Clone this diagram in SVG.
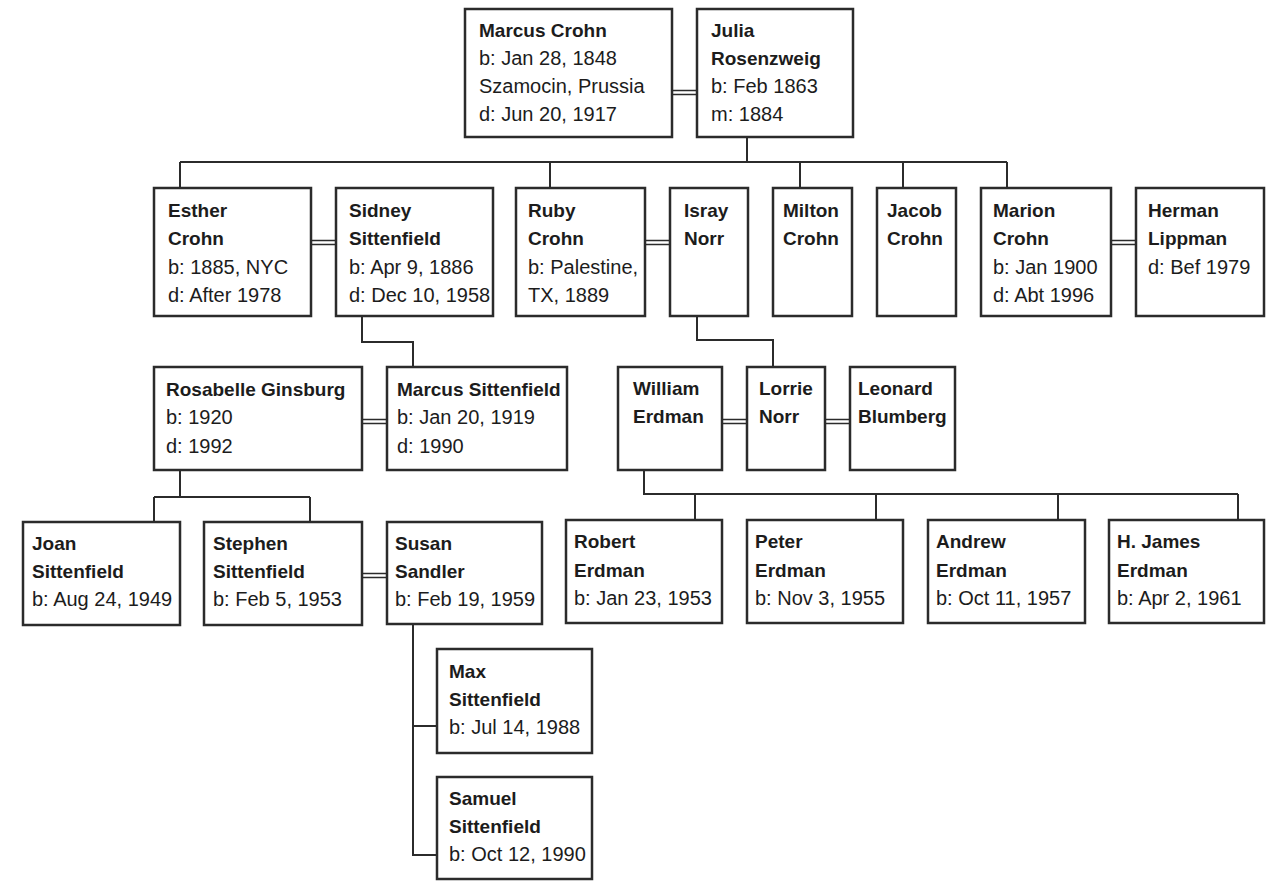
<svg xmlns="http://www.w3.org/2000/svg" width="1277" height="884" viewBox="0 0 1277 884">
<style>
.bg{fill:#ffffff}
.box{fill:#ffffff;stroke:#2b2b2b;stroke-width:2.5}
.ln{fill:none;stroke:#2b2b2b;stroke-width:2}
.mar{fill:none;stroke:#2b2b2b;stroke-width:1.5}
text{font-family:"Liberation Sans",Arial,sans-serif;fill:#1c1c1c}
.n{font-size:19px;font-weight:bold}
.d{font-size:20px}
</style>
<rect class="bg" x="0" y="0" width="1277" height="884"/>
<g id="connectors">
  <path class="mar" d="M672 90.5H697M672 94.5H697"/>
  <path class="mar" d="M311 240.5H336M311 244.5H336"/>
  <path class="mar" d="M645 240.5H670M645 244.5H670"/>
  <path class="mar" d="M1111 240.5H1136M1111 244.5H1136"/>
  <path class="mar" d="M362 419.5H387M362 423.5H387"/>
  <path class="mar" d="M722 419.5H747M722 423.5H747"/>
  <path class="mar" d="M825 419.5H850M825 423.5H850"/>
  <path class="mar" d="M362 573.5H387M362 577.5H387"/>
  <path class="ln" d="M747 137V162M180 162H1007M180 162V188M550 162V188M800 162V188M903 162V188M1007 162V188"/>
  <path class="ln" d="M362 316V342H413V367"/>
  <path class="ln" d="M697 316V340H773V367"/>
  <path class="ln" d="M180 470V497M154 497H310M154 497V522M310 497V522"/>
  <path class="ln" d="M644 470V494H1238M695 494V520M876 494V520M1058 494V520M1238 494V520"/>
  <path class="ln" d="M413 624V855H437M413 726H437"/>
</g>
<g id="marcus-crohn"><rect class="box" x="465" y="9" width="207" height="128"/>
<text x="479" y="37"><tspan class="n">Marcus Crohn</tspan><tspan class="d" x="479" dy="28">b: Jan 28, 1848</tspan><tspan class="d" x="479" dy="28">Szamocin, Prussia</tspan><tspan class="d" x="479" dy="28">d: Jun 20, 1917</tspan></text></g>
<g id="julia-rosenzweig"><rect class="box" x="697" y="9" width="156" height="128"/>
<text x="711" y="37"><tspan class="n">Julia</tspan><tspan class="n" x="711" dy="28">Rosenzweig</tspan><tspan class="d" x="711" dy="28">b: Feb 1863</tspan><tspan class="d" x="711" dy="28">m: 1884</tspan></text></g>

<g id="esther-crohn"><rect class="box" x="154" y="188" width="157" height="128"/>
<text x="168" y="217"><tspan class="n">Esther</tspan><tspan class="n" x="168" dy="28.3">Crohn</tspan><tspan class="d" x="168" dy="28.3">b: 1885, NYC</tspan><tspan class="d" x="168" dy="28.3">d: After 1978</tspan></text></g>
<g id="sidney-sittenfield"><rect class="box" x="336" y="188" width="157" height="128"/>
<text x="349" y="217"><tspan class="n">Sidney</tspan><tspan class="n" x="349" dy="28.3">Sittenfield</tspan><tspan class="d" x="349" dy="28.3">b: Apr 9, 1886</tspan><tspan class="d" x="349" dy="28.3">d: Dec 10, 1958</tspan></text></g>
<g id="ruby-crohn"><rect class="box" x="516" y="188" width="129" height="128"/>
<text x="528" y="217"><tspan class="n">Ruby</tspan><tspan class="n" x="528" dy="28.3">Crohn</tspan><tspan class="d" x="528" dy="28.3">b: Palestine,</tspan><tspan class="d" x="528" dy="28.3">TX, 1889</tspan></text></g>
<g id="isray-norr"><rect class="box" x="670" y="188" width="78" height="128"/>
<text x="684" y="217"><tspan class="n">Isray</tspan><tspan class="n" x="684" dy="28.3">Norr</tspan></text></g>
<g id="milton-crohn"><rect class="box" x="773" y="188" width="79" height="128"/>
<text x="783" y="217"><tspan class="n">Milton</tspan><tspan class="n" x="783" dy="28.3">Crohn</tspan></text></g>
<g id="jacob-crohn"><rect class="box" x="877" y="188" width="79" height="128"/>
<text x="887" y="217"><tspan class="n">Jacob</tspan><tspan class="n" x="887" dy="28.3">Crohn</tspan></text></g>
<g id="marion-crohn"><rect class="box" x="981" y="188" width="130" height="128"/>
<text x="993" y="217"><tspan class="n">Marion</tspan><tspan class="n" x="993" dy="28.3">Crohn</tspan><tspan class="d" x="993" dy="28.3">b: Jan 1900</tspan><tspan class="d" x="993" dy="28.3">d: Abt 1996</tspan></text></g>
<g id="herman-lippman"><rect class="box" x="1136" y="188" width="128" height="128"/>
<text x="1148" y="217"><tspan class="n">Herman</tspan><tspan class="n" x="1148" dy="28.3">Lippman</tspan><tspan class="d" x="1148" dy="28.3">d: Bef 1979</tspan></text></g>

<g id="rosabelle-ginsburg"><rect class="box" x="154" y="367" width="208" height="103"/>
<text x="166" y="396"><tspan class="n">Rosabelle Ginsburg</tspan><tspan class="d" x="166" dy="28.3">b: 1920</tspan><tspan class="d" x="166" dy="28.3">d: 1992</tspan></text></g>
<g id="marcus-sittenfield"><rect class="box" x="387" y="367" width="180" height="103"/>
<text x="397" y="396"><tspan class="n">Marcus Sittenfield</tspan><tspan class="d" x="397" dy="28.3">b: Jan 20, 1919</tspan><tspan class="d" x="397" dy="28.3">d: 1990</tspan></text></g>
<g id="william-erdman"><rect class="box" x="618" y="367" width="104" height="103"/>
<text x="633" y="395"><tspan class="n">William</tspan><tspan class="n" x="633" dy="28.3">Erdman</tspan></text></g>
<g id="lorrie-norr"><rect class="box" x="747" y="367" width="78" height="103"/>
<text x="759" y="395"><tspan class="n">Lorrie</tspan><tspan class="n" x="759" dy="28.3">Norr</tspan></text></g>
<g id="leonard-blumberg"><rect class="box" x="850" y="367" width="105" height="103"/>
<text x="858" y="395"><tspan class="n">Leonard</tspan><tspan class="n" x="858" dy="28.3">Blumberg</tspan></text></g>

<g id="joan-sittenfield"><rect class="box" x="23" y="522" width="157" height="103"/>
<text x="32" y="550"><tspan class="n">Joan</tspan><tspan class="n" x="32" dy="28">Sittenfield</tspan><tspan class="d" x="32" dy="28">b: Aug 24, 1949</tspan></text></g>
<g id="stephen-sittenfield"><rect class="box" x="204" y="522" width="158" height="103"/>
<text x="213" y="550"><tspan class="n">Stephen</tspan><tspan class="n" x="213" dy="28">Sittenfield</tspan><tspan class="d" x="213" dy="28">b: Feb 5, 1953</tspan></text></g>
<g id="susan-sandler"><rect class="box" x="387" y="522" width="155" height="102"/>
<text x="395" y="550"><tspan class="n">Susan</tspan><tspan class="n" x="395" dy="28">Sandler</tspan><tspan class="d" x="395" dy="28">b: Feb 19, 1959</tspan></text></g>
<g id="robert-erdman"><rect class="box" x="566" y="520" width="156" height="103"/>
<text x="574" y="548"><tspan class="n">Robert</tspan><tspan class="n" x="574" dy="28.5">Erdman</tspan><tspan class="d" x="574" dy="28.5">b: Jan 23, 1953</tspan></text></g>
<g id="peter-erdman"><rect class="box" x="747" y="520" width="156" height="103"/>
<text x="755" y="548"><tspan class="n">Peter</tspan><tspan class="n" x="755" dy="28.5">Erdman</tspan><tspan class="d" x="755" dy="28.5">b: Nov 3, 1955</tspan></text></g>
<g id="andrew-erdman"><rect class="box" x="928" y="520" width="157" height="103"/>
<text x="936" y="548"><tspan class="n">Andrew</tspan><tspan class="n" x="936" dy="28.5">Erdman</tspan><tspan class="d" x="936" dy="28.5">b: Oct 11, 1957</tspan></text></g>
<g id="h-james-erdman"><rect class="box" x="1109" y="520" width="155" height="103"/>
<text x="1117" y="548"><tspan class="n">H. James</tspan><tspan class="n" x="1117" dy="28.5">Erdman</tspan><tspan class="d" x="1117" dy="28.5">b: Apr 2, 1961</tspan></text></g>

<g id="max-sittenfield"><rect class="box" x="437" y="649" width="155" height="104"/>
<text x="449" y="678"><tspan class="n">Max</tspan><tspan class="n" x="449" dy="28">Sittenfield</tspan><tspan class="d" x="449" dy="28">b: Jul 14, 1988</tspan></text></g>
<g id="samuel-sittenfield"><rect class="box" x="437" y="777" width="155" height="102"/>
<text x="449" y="805"><tspan class="n">Samuel</tspan><tspan class="n" x="449" dy="28">Sittenfield</tspan><tspan class="d" x="449" dy="28">b: Oct 12, 1990</tspan></text></g>
</svg>
